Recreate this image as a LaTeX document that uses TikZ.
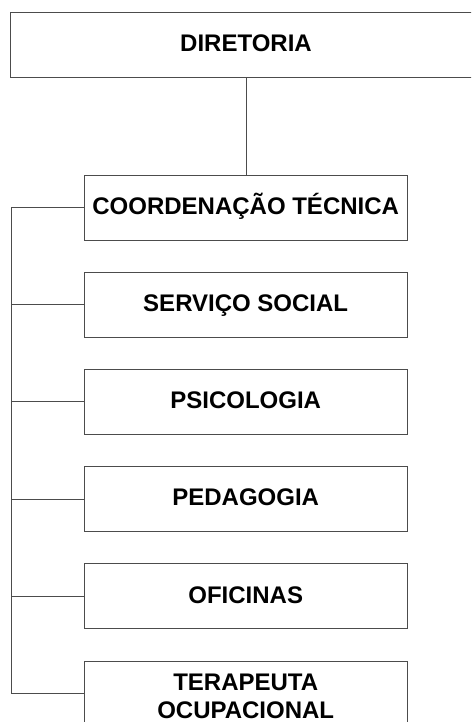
\documentclass[tikz,border=0pt]{standalone}
\usepackage{fontspec}
\setmainfont{Liberation Sans}
\begin{document}
\begin{tikzpicture}[x=1pt,y=1pt,
  box/.style={draw=black!70,line width=0.9pt,rectangle,minimum width=323pt,minimum height=65pt,inner sep=0pt,
    font=\fontsize{24}{28}\selectfont\bfseries,align=center,text height=13.4pt,text depth=0pt},
  conn/.style={draw=black!70,line width=0.9pt}]
\clip (0,0) rectangle (471,-722);
\fill[white] (0,0) rectangle (471,-722);
\node[box,minimum width=472pt,minimum height=65pt] (dir) at (246,-45.3) {DIRETORIA};
\node[box] (coord) at (245.7,-207.5) {COORDENAÇÃO TÉCNICA};
\node[box] (serv) at (245.7,-304.7) {SERVIÇO SOCIAL};
\node[box] (psi) at (245.7,-401.9) {PSICOLOGIA};
\node[box] (ped) at (245.7,-499.1) {PEDAGOGIA};
\node[box] (ofi) at (245.7,-596.3) {OFICINAS};
\node[box,text height=49pt,text depth=0pt] (ter) at (245.7,-693.5) {TERAPEUTA\\OCUPACIONAL};
\coordinate (bt) at (11,-207.5);
\coordinate (bb) at (11,-693.5);
\draw[conn] (dir.south) -- (dir.south |- coord.north);
\draw[conn] (coord.west) -- (bt) -- (bb) -- (ter.west);
\draw[conn] (serv.west) -- (serv.west -| bt);
\draw[conn] (psi.west) -- (psi.west -| bt);
\draw[conn] (ped.west) -- (ped.west -| bt);
\draw[conn] (ofi.west) -- (ofi.west -| bt);
\end{tikzpicture}
\end{document}
